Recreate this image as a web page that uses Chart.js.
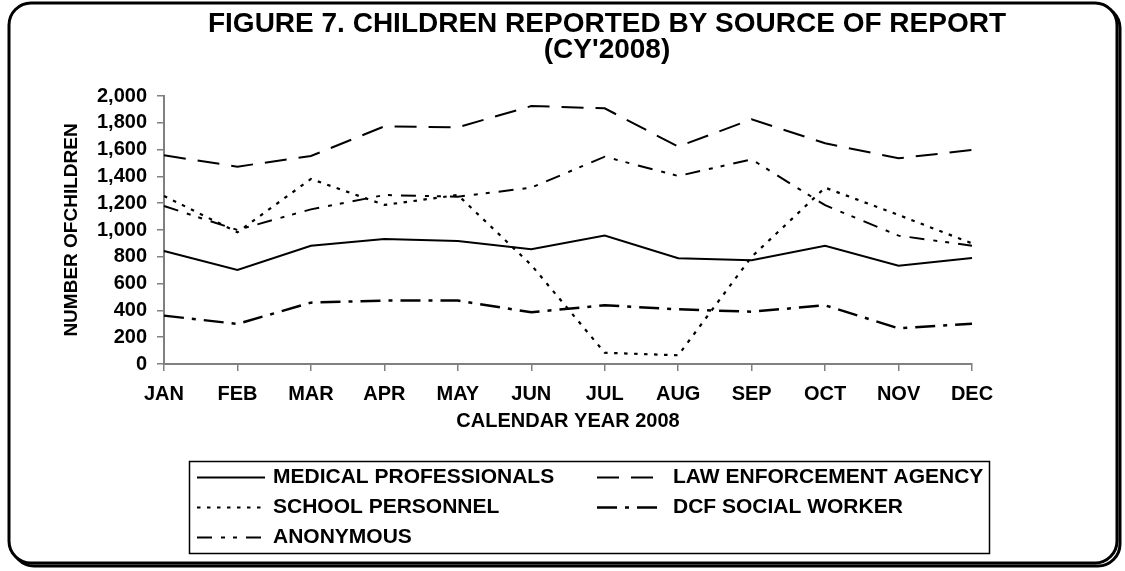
<!DOCTYPE html>
<html>
<head>
<meta charset="utf-8">
<script src="https://cdn.jsdelivr.net/npm/chart.js@4.4.1/dist/chart.umd.min.js"></script>
<style>
  html, body { margin: 0; padding: 0; background: #fff; }
</style>
</head>
<body>
<canvas id="sourceChart" width="1125" height="571"></canvas>
<script>
const months = ['JAN', 'FEB', 'MAR', 'APR', 'MAY', 'JUN', 'JUL', 'AUG', 'SEP', 'OCT', 'NOV', 'DEC'];

const medical   = [843, 701, 883, 933, 918, 856, 958, 789, 774, 883, 734, 791];
const lawEnf    = [1557, 1473, 1552, 1774, 1766, 1925, 1908, 1622, 1826, 1647, 1535, 1597];
const school    = [1254, 983, 1381, 1187, 1261, 739, 84, 65, 800, 1316, 1112, 900];
const dcfWorker = [361, 299, 458, 473, 473, 386, 438, 408, 390, 438, 266, 301];
const anonymous = [1179, 1000, 1154, 1261, 1249, 1316, 1547, 1403, 1527, 1185, 958, 883];

const yMin = 0;
const yMax = 2000;
const yStep = 200;

const FONT = "'Liberation Sans', Arial, sans-serif";

// line styles per source, legend reads them back from the datasets
const series = [
    { label: 'MEDICAL PROFESSIONALS', data: medical, dash: [], width: 2 },
    { label: 'LAW ENFORCEMENT AGENCY', data: lawEnf, dash: [22, 12], width: 2 },
    { label: 'SCHOOL PERSONNEL', data: school, dash: [3.5, 6.5], width: 2.2 },
    { label: 'DCF SOCIAL WORKER', data: dcfWorker, dash: [20, 8, 4, 8], width: 2.5 },
    { label: 'ANONYMOUS', data: anonymous, dash: [15, 9, 4, 8, 4, 9], width: 2 },
];

const frameTitleLegend = {
    id: 'frameTitleLegend',
    beforeDraw(chart) {
        const ctx = chart.ctx;
        ctx.save();
        ctx.fillStyle = '#fff';
        ctx.fillRect(0, 0, chart.width, chart.height);
        ctx.strokeStyle = '#000';
        ctx.lineWidth = 3;
        // drop shadow, then the white panel on top of it
        ctx.beginPath();
        ctx.roundRect(12, 6, 1108, 560, 22);
        ctx.stroke();
        ctx.beginPath();
        ctx.roundRect(9, 3, 1108, 560, 22);
        ctx.fill();
        ctx.stroke();
        ctx.restore();
    },
    afterDraw(chart) {
        const ctx = chart.ctx;
        ctx.save();
        ctx.fillStyle = '#000';
        ctx.textAlign = 'center';
        ctx.textBaseline = 'middle';
        ctx.font = `bold 28px ${FONT}`;
        ctx.fillText('FIGURE 7. CHILDREN REPORTED BY SOURCE OF REPORT', 607, 24);
        ctx.fillText("(CY'2008)", 607, 50);

        // legend box: two columns, filled row by row
        ctx.lineWidth = 1.5;
        ctx.strokeStyle = '#000';
        ctx.setLineDash([]);
        ctx.strokeRect(189.5, 461.5, 800, 92);

        const colX = [197, 597];
        const rowY = [477.5, 507.5, 537.5];
        ctx.textAlign = 'left';
        ctx.font = `bold 21px ${FONT}`;
        chart.data.datasets.forEach((ds, i) => {
            const x = colX[i % 2];
            const y = rowY[Math.floor(i / 2)];
            ctx.beginPath();
            ctx.lineWidth = ds.borderWidth;
            ctx.setLineDash(ds.borderDash);
            ctx.moveTo(x, y);
            ctx.lineTo(x + 68, y);
            ctx.stroke();
            ctx.setLineDash([]);
            ctx.fillText(ds.label, x + 76, y);
        });
        ctx.restore();
    },
};

const axisFont = { family: FONT, size: 20, weight: 'bold' };

new Chart(document.getElementById('sourceChart'), {
    type: 'line',
    data: {
        labels: months,
        datasets: series.map(s => ({
            label: s.label,
            data: s.data,
            borderColor: '#000',
            borderWidth: s.width,
            borderDash: s.dash,
            borderCapStyle: 'butt',
            pointRadius: 0,
            tension: 0,
            fill: false,
        })),
    },
    options: {
        responsive: false,
        animation: false,
        devicePixelRatio: 1,
        layout: { padding: { left: 56, right: 153, top: 96, bottom: 134 } },
        plugins: {
            legend: { display: false },
            title: { display: false },
            tooltip: { enabled: false },
        },
        scales: {
            x: {
                grid: { drawOnChartArea: false, tickLength: 7, color: '#808080', lineWidth: 1.5 },
                border: { color: '#808080', width: 2 },
                ticks: { color: '#000', font: axisFont, padding: 11, maxRotation: 0, autoSkip: false },
                title: {
                    display: true,
                    text: 'CALENDAR YEAR 2008',
                    color: '#000',
                    font: axisFont,
                    padding: { top: 4, bottom: 4 },
                },
                afterFit(scale) { scale.height = 73; },
            },
            y: {
                min: yMin,
                max: yMax,
                grid: { drawOnChartArea: false, tickLength: 7, color: '#808080', lineWidth: 1.5 },
                border: { color: '#808080', width: 2 },
                ticks: {
                    stepSize: yStep,
                    autoSkip: false,
                    color: '#000',
                    font: axisFont,
                    padding: 10,
                    callback: v => v.toLocaleString('en-US'),
                },
                title: {
                    display: true,
                    text: 'NUMBER OFCHILDREN',
                    color: '#000',
                    font: { family: FONT, size: 19, weight: 'bold' },
                    padding: { top: 4, bottom: 4 },
                },
                afterFit(scale) { scale.width = 108; },
            },
        },
    },
    plugins: [frameTitleLegend],
});
</script>
</body>
</html>
